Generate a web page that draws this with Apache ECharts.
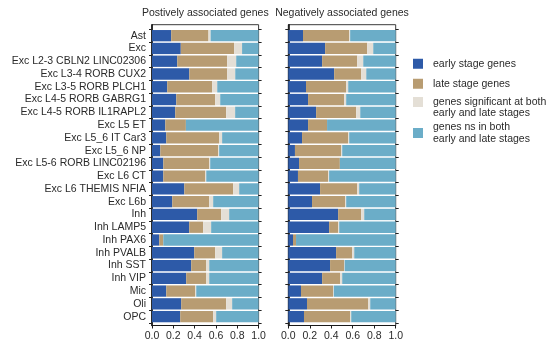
<!DOCTYPE html>
<html><head><meta charset="utf-8">
<script src="https://cdn.jsdelivr.net/npm/echarts@6/dist/echarts.min.js"></script>
<style>html,body{margin:0;padding:0;background:#fff}#c{width:548px;height:347px}</style>
</head><body><div id="c"></div>
<script>
const categories = ["Ast","Exc","Exc L2-3 CBLN2 LINC02306","Exc L3-4 RORB CUX2","Exc L3-5 RORB PLCH1","Exc L4-5 RORB GABRG1","Exc L4-5 RORB IL1RAPL2","Exc L5 ET","Exc L5_6 IT Car3","Exc L5_6 NP","Exc L5-6 RORB LINC02196","Exc L6 CT","Exc L6 THEMIS NFIA","Exc L6b","Inh","Inh LAMP5","Inh PAX6","Inh PVALB","Inh SST","Inh VIP","Mic","Oli","OPC"];
const seriesNames = ["early stage genes","late stage genes","genes significant at both\nearly and late stages","genes ns in both\nearly and late stages"];
const panelTitles = ["Postively associated genes","Negatively associated genes"];
const xTicks = [0,0.2,0.4,0.6,0.8,1.0];

const posEarly = [0.18,0.27,0.237,0.35,0.143,0.228,0.218,0.125,0.134,0.078,0.106,0.106,0.303,0.19,0.424,0.349,0.068,0.396,0.368,0.321,0.134,0.274,0.265];
const posLate  = [0.35,0.50,0.468,0.356,0.422,0.365,0.478,0.193,0.496,0.543,0.431,0.394,0.458,0.347,0.225,0.131,0.038,0.197,0.141,0.188,0.272,0.422,0.309];
const posBoth  = [0.02,0.075,0.085,0.075,0.047,0.047,0.084,0,0.028,0.009,0.009,0.009,0.057,0.037,0.075,0.075,0,0.065,0.028,0.028,0.009,0.056,0.028];
const posNs    = [0.45,0.155,0.21,0.219,0.388,0.36,0.22,0.682,0.342,0.37,0.454,0.491,0.182,0.426,0.276,0.445,0.894,0.342,0.463,0.463,0.585,0.248,0.398];

const negEarly = [0.137,0.343,0.315,0.427,0.165,0.184,0.259,0.184,0.128,0.062,0.1,0.09,0.296,0.221,0.464,0.38,0.044,0.445,0.389,0.315,0.118,0.174,0.146];
const negLate  = [0.43,0.392,0.327,0.252,0.374,0.336,0.373,0.177,0.43,0.43,0.38,0.281,0.346,0.309,0.215,0.084,0.028,0.15,0.131,0.168,0.299,0.571,0.43];
const negBoth  = [0.009,0.056,0.056,0.047,0.019,0.019,0.038,0,0.009,0.01,0,0.009,0.018,0.009,0.028,0.01,0,0.019,0.005,0.019,0.007,0.018,0.01];
const negNs    = [0.424,0.209,0.302,0.274,0.442,0.461,0.33,0.639,0.433,0.498,0.52,0.62,0.34,0.461,0.293,0.526,0.928,0.386,0.475,0.498,0.576,0.237,0.414];

const colors = ["#2d5aa8","#b89c72","#e4dfd6","#6badc8"];
const FONT = "Liberation Sans, Arial, sans-serif";
const TXT = "#2a2a2a";
const FS = 10.5;

const panels = [
  {left:152, width:106.6, data:[posEarly,posLate,posBoth,posNs], labels:true, title:panelTitles[0]},
  {left:288.3, width:107.4, data:[negEarly,negLate,negBoth,negNs], labels:false, title:panelTitles[1]}
];
const barTop = 29.3, barH = 293.7, frameTop = 24.7, frameH = 300.8;

const grid = [], xAxis = [], yAxis = [], series = [], graphic = [];
panels.forEach((p, i) => {
  grid.push({left:p.left, top:frameTop, width:p.width, height:frameH, show:true, borderColor:'#3a3a3a', borderWidth:1, backgroundColor:'transparent'});
  const fg = grid.length - 1;
  grid.push({left:p.left, top:barTop, width:p.width, height:barH, show:false});
  const bg = grid.length - 1;

  xAxis.push({gridIndex:fg, type:'value', min:0, max:1, interval:0.2,
    axisLine:{show:true, lineStyle:{color:'#1a1a1a', width:1}},
    axisTick:{show:true, length:3, lineStyle:{color:'#1a1a1a'}},
    splitLine:{show:false},
    axisLabel:{margin:5, color:TXT, fontSize:FS, fontFamily:FONT, formatter: v => v.toFixed(1)}});
  yAxis.push({gridIndex:fg, type:'value', min:0, max:1,
    axisLine:{show:true, lineStyle:{color:'#111', width:1.6}},
    axisTick:{show:false}, axisLabel:{show:false}, splitLine:{show:false}});

  xAxis.push({gridIndex:bg, type:'value', min:0, max:1, show:false});
  const bx = xAxis.length - 1;
  yAxis.push({gridIndex:bg, type:'category', data:categories, inverse:true,
    axisLine:{show:false},
    axisTick:{show:true, interval:0, length:3, lineStyle:{color:'#222'}},
    axisLabel:{show:p.labels, interval:0, margin:6, color:TXT, fontSize:FS, fontFamily:FONT}});
  const by = yAxis.length - 1;
  yAxis.push({gridIndex:bg, type:'category', data:categories, inverse:true, position:'right',
    axisLine:{show:false},
    axisTick:{show:true, interval:0, length:3, lineStyle:{color:'#222'}},
    axisLabel:{show:false}});

  p.data.forEach((arr, k) => {
    series.push({type:'bar', name:seriesNames[k], xAxisIndex:bx, yAxisIndex:by,
      stack:'p'+i, data:arr, barCategoryGap:'11.5%', itemStyle:{color:colors[k]},
      silent:true, animation:false});
  });

  graphic.push({type:'text', x:p.left + p.width/2, y:13.3,
    style:{text:p.title, fill:TXT, font:`${FS}px ${FONT}`, textAlign:'center', textVerticalAlign:'middle'}});
});

const legendTops = [58, 78, 84.75, 121.5];
const legendPrefix = ["", "", "\n", ""];
const legend = seriesNames.map((n, k) => ({
  data:[n], left:413, top:legendTops[k], orient:'vertical', padding:0,
  icon:'rect', itemWidth:10, itemHeight:10, selectedMode:false,
  itemStyle:{color:colors[k]},
  formatter: name => legendPrefix[k] + name,
  textStyle:{color:TXT, fontSize:FS, fontFamily:FONT, lineHeight:11.5, padding:[0,0,0,5]}
}));

const chart = echarts.init(document.getElementById('c'), null, {renderer:'canvas'});
chart.setOption({animation:false, grid, xAxis, yAxis, series, legend, graphic});
</script></body></html>
